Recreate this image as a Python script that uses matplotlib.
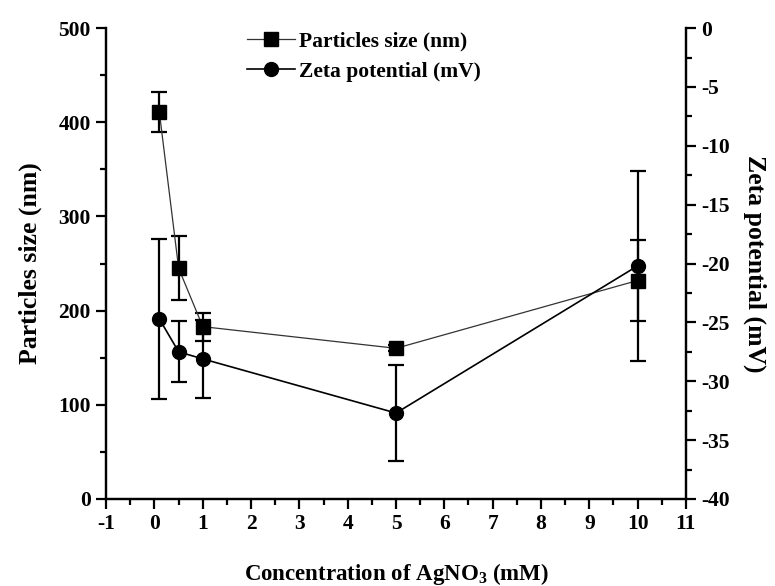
#------------------------------------------------------------------------------------------------------------------
#   Particle size and zeta potential vs AgNO3 concentration
#------------------------------------------------------------------------------------------------------------------

import numpy as np
import matplotlib
matplotlib.use('Agg')
import matplotlib.pyplot as plt
from matplotlib.ticker import MultipleLocator

#------------------------------------------------------------------------------------------------------------------
#   Data
#------------------------------------------------------------------------------------------------------------------
conc = [0.1, 0.5, 1, 5, 10]

size_nm = [411, 245, 183, 160, 232]
size_err = [21, 34, 15, 3, 43]

zeta_mv = [-24.7, -27.5, -28.1, -32.7, -20.2]
zeta_err = [6.8, 2.6, 3.3, 4.1, 8.1]

#------------------------------------------------------------------------------------------------------------------
#   Style
#------------------------------------------------------------------------------------------------------------------
plt.rcParams['font.family'] = ['Liberation Serif', 'DejaVu Serif']
plt.rcParams['font.weight'] = 'bold'
plt.rcParams['axes.unicode_minus'] = False
plt.rcParams['mathtext.fontset'] = 'custom'
plt.rcParams['mathtext.bf'] = 'Liberation Serif:bold'
plt.rcParams['mathtext.rm'] = 'Liberation Serif:bold'
plt.rcParams['mathtext.default'] = 'bf'

fig = plt.figure(figsize=(7.75, 5.86), dpi=100)
ax = fig.add_axes([0.137, 0.1485, 0.748, 0.8035])
ax2 = ax.twinx()

#------------------------------------------------------------------------------------------------------------------
#   Plot
#------------------------------------------------------------------------------------------------------------------
l1, = ax.plot(conc, size_nm, '-', color='#333333', lw=0.9, marker='s', ms=9.5,
              mfc='black', mec='black', zorder=3)
ax.errorbar(conc, size_nm, yerr=size_err, fmt='none', ecolor='black',
            elinewidth=1.6, capsize=6, capthick=1.6, zorder=2)

l2, = ax2.plot(conc, zeta_mv, '-', color='black', lw=1.2, marker='o', ms=10,
               mfc='black', mec='black', zorder=3)
ax2.errorbar(conc, zeta_mv, yerr=zeta_err, fmt='none', ecolor='black',
             elinewidth=1.6, capsize=6, capthick=1.6, zorder=2)

#------------------------------------------------------------------------------------------------------------------
#   Axes
#------------------------------------------------------------------------------------------------------------------
ax.set_xlim(-1, 11)
ax.set_ylim(0, 500)
ax2.set_ylim(-40, 0)

ax.xaxis.set_major_locator(MultipleLocator(1))
ax.xaxis.set_minor_locator(MultipleLocator(0.5))
ax.yaxis.set_major_locator(MultipleLocator(100))
ax.yaxis.set_minor_locator(MultipleLocator(50))
ax2.yaxis.set_major_locator(MultipleLocator(5))
ax2.yaxis.set_minor_locator(MultipleLocator(2.5))

for a in (ax, ax2):
    a.spines['top'].set_visible(False)
    for s in a.spines.values():
        s.set_linewidth(1.6)
    a.tick_params(which='major', direction='out', length=7, width=1.6, labelsize=15.5)
    a.tick_params(which='minor', direction='out', length=4, width=1.6)

ax.tick_params(axis='y', pad=4)
ax2.tick_params(axis='y', pad=4)

ax.set_xlabel('Concentration of AgNO$_3$ (mM)', fontsize=16.5, fontweight='bold', labelpad=20)
ax.set_ylabel('Particles size (nm)', fontsize=18.5, fontweight='bold', labelpad=12)
ax2.set_ylabel('Zeta potential (mV)', fontsize=18.5, fontweight='bold', rotation=270, labelpad=26)

ax.legend([l1, l2], ['Particles size (nm)', 'Zeta potential (mV)'], loc='upper center',
          bbox_to_anchor=(0.445, 1.035), frameon=False, fontsize=15.5, handlelength=2.2,
          handletextpad=0.2, labelspacing=0.5)

fig.savefig('out.png', dpi=100)
